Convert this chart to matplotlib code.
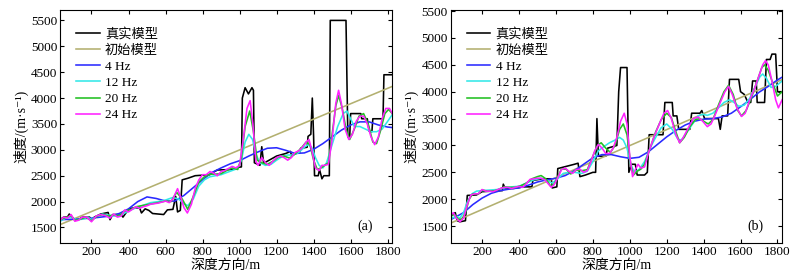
import matplotlib
matplotlib.use("Agg")
import matplotlib.pyplot as plt
import numpy as np

plt.rcParams['font.family'] = ['Liberation Serif', 'Noto Sans CJK SC', 'DejaVu Sans']

labels = ['真实模型', '初始模型', '4 Hz', '12 Hz', '20 Hz', '24 Hz']
colors = ['#000000', '#b3b070', '#2a2aff', '#33e8e8', '#22c022', '#ff22ff']

# ---------------- panel (a) ----------------
a_true_x = [30, 50, 70, 80, 95, 110, 130, 150, 190, 200, 215, 250, 290, 300, 315, 360, 370, 390, 410, 460, 470, 490, 510, 530, 560, 590, 610, 640, 655, 665, 680, 690, 720, 760, 840, 850, 880, 960, 990, 1010, 1015, 1030, 1048, 1067, 1075, 1080, 1110, 1120, 1130, 1160, 1200, 1250, 1275, 1280, 1325, 1330, 1365, 1370, 1385, 1393, 1400, 1405, 1425, 1432, 1445, 1455, 1485, 1490, 1575, 1585, 1595, 1600, 1655, 1660, 1690, 1700, 1715, 1720, 1775, 1780, 1825]
a_true_y = [1650, 1700, 1700, 1760, 1700, 1640, 1650, 1700, 1700, 1640, 1700, 1760, 1790, 1650, 1750, 1750, 1700, 1800, 1870, 1880, 1780, 1860, 1830, 1770, 1760, 1750, 1840, 1850, 2100, 1800, 1830, 2420, 2450, 2500, 2520, 2550, 2610, 2620, 2660, 2670, 4000, 4200, 4080, 4200, 4150, 2750, 2700, 3060, 2740, 2800, 2880, 2930, 2970, 2900, 2950, 3030, 3050, 3260, 3300, 4000, 3260, 2500, 2500, 2620, 2440, 2500, 2500, 5500, 5500, 3250, 3250, 3700, 3700, 3600, 3600, 3360, 3350, 3600, 3600, 4450, 4450]

init_x = [30, 1825]
init_y = [1555, 4225]

a_4_x = [30, 100, 200, 300, 350, 400, 450, 500, 550, 600, 650, 700, 750, 800, 850, 900, 950, 1000, 1050, 1100, 1150, 1200, 1250, 1300, 1350, 1400, 1450, 1500, 1550, 1600, 1650, 1700, 1750, 1800, 1825]
a_4_y = [1650, 1660, 1680, 1720, 1770, 1860, 2000, 2090, 2060, 2010, 2010, 2120, 2270, 2420, 2560, 2650, 2730, 2790, 2880, 2960, 3030, 3040, 2990, 2930, 2940, 3010, 3120, 3250, 3380, 3480, 3540, 3540, 3480, 3440, 3430]

a_12_x = [30, 60, 90, 120, 150, 180, 200, 230, 260, 290, 320, 360, 400, 440, 480, 520, 560, 600, 640, 670, 700, 720, 750, 780, 810, 840, 870, 900, 930, 960, 990, 1010, 1030, 1050, 1070, 1090, 1110, 1140, 1170, 1200, 1230, 1260, 1290, 1320, 1350, 1370, 1390, 1410, 1430, 1450, 1470, 1500, 1530, 1560, 1580, 1600, 1620, 1650, 1680, 1710, 1740, 1770, 1800, 1825]
a_12_y = [1620, 1680, 1700, 1650, 1660, 1700, 1650, 1720, 1760, 1740, 1720, 1740, 1820, 1880, 1930, 1980, 2000, 2030, 2080, 2050, 1960, 1920, 2050, 2300, 2420, 2480, 2500, 2520, 2560, 2600, 2640, 2800, 3150, 3300, 3200, 2900, 2750, 2700, 2720, 2800, 2870, 2900, 2900, 2950, 3050, 3100, 3050, 2850, 2700, 2650, 2750, 3100, 3450, 3700, 3750, 3600, 3450, 3450, 3400, 3350, 3350, 3400, 3550, 3680]

a_20_x = [30, 60, 90, 110, 140, 170, 200, 230, 260, 290, 320, 350, 380, 410, 440, 470, 500, 530, 560, 600, 630, 660, 690, 720, 750, 780, 810, 840, 870, 900, 930, 960, 990, 1010, 1030, 1055, 1075, 1095, 1120, 1150, 1180, 1210, 1240, 1270, 1300, 1330, 1360, 1380, 1400, 1420, 1440, 1460, 1480, 1500, 1520, 1535, 1555, 1575, 1595, 1620, 1645, 1670, 1695, 1720, 1740, 1760, 1785, 1805, 1825]
a_20_y = [1650, 1690, 1730, 1640, 1660, 1700, 1630, 1720, 1750, 1720, 1740, 1720, 1820, 1840, 1900, 1920, 1940, 1960, 1980, 2010, 2000, 2180, 2050, 1850, 2100, 2380, 2480, 2530, 2530, 2540, 2600, 2650, 2620, 2850, 3450, 3750, 3350, 2800, 2750, 2720, 2780, 2860, 2880, 2840, 2920, 3020, 3150, 3100, 2800, 2620, 2650, 2700, 2750, 3300, 3850, 4050, 3800, 3400, 3200, 3400, 3650, 3700, 3500, 3150, 3120, 3350, 3700, 3780, 3700]

a_24_x = [30, 50, 70, 90, 110, 130, 150, 175, 200, 225, 250, 275, 300, 320, 340, 360, 380, 400, 420, 440, 460, 480, 500, 520, 540, 560, 580, 600, 620, 640, 665, 685, 700, 718, 740, 760, 780, 800, 820, 840, 860, 880, 900, 920, 940, 960, 980, 1000, 1020, 1040, 1057, 1072, 1088, 1100, 1120, 1140, 1160, 1180, 1200, 1220, 1240, 1260, 1280, 1300, 1320, 1340, 1360, 1375, 1390, 1410, 1430, 1445, 1460, 1480, 1500, 1520, 1535, 1550, 1570, 1590, 1610, 1630, 1650, 1670, 1690, 1710, 1730, 1750, 1770, 1790, 1810, 1825]
a_24_y = [1640, 1700, 1680, 1750, 1620, 1640, 1700, 1700, 1610, 1720, 1750, 1730, 1680, 1760, 1700, 1720, 1840, 1800, 1850, 1900, 1870, 1900, 1920, 1950, 1960, 1970, 1990, 2010, 1980, 2050, 2250, 2050, 1880, 1780, 1950, 2250, 2420, 2520, 2520, 2580, 2550, 2500, 2580, 2600, 2640, 2680, 2650, 2700, 3200, 3800, 3950, 3500, 2780, 2700, 2850, 2750, 2700, 2780, 2850, 2880, 2850, 2800, 2850, 2950, 2980, 3050, 3150, 3200, 3000, 2650, 2600, 2700, 2700, 2720, 3200, 3900, 4150, 3900, 3400, 3200, 3300, 3550, 3650, 3650, 3500, 3250, 3100, 3250, 3600, 3800, 3800, 3700]

# ---------------- panel (b) ----------------
b_true_x = [30, 55, 65, 80, 110, 120, 170, 200, 310, 315, 325, 370, 425, 470, 475, 530, 575, 580, 605, 610, 700, 720, 730, 760, 800, 815, 822, 830, 870, 880, 930, 940, 950, 985, 995, 1010, 1030, 1040, 1080, 1095, 1105, 1180, 1190, 1230, 1235, 1255, 1265, 1325, 1335, 1380, 1390, 1405, 1480, 1490, 1500, 1530, 1540, 1590, 1600, 1620, 1640, 1655, 1665, 1685, 1690, 1730, 1740, 1760, 1770, 1790, 1800, 1825]
b_true_y = [1700, 1750, 1600, 1580, 1600, 2070, 2080, 2140, 2160, 2280, 2200, 2200, 2230, 2230, 2350, 2380, 2380, 2210, 2230, 2570, 2650, 2670, 2420, 2450, 2500, 2500, 3500, 2800, 2800, 2950, 3000, 4000, 4450, 4450, 2500, 2650, 2650, 2450, 2450, 2500, 3200, 3200, 3800, 3800, 3550, 3550, 3300, 3300, 3600, 3600, 3650, 3500, 3500, 3300, 3550, 3550, 4230, 4230, 4000, 3950, 3800, 3800, 4200, 4200, 3800, 3800, 4600, 4600, 4700, 4700, 4000, 4000]

b_4_x = [30, 100, 150, 200, 250, 300, 350, 400, 450, 500, 550, 600, 650, 700, 750, 800, 850, 900, 950, 1000, 1050, 1100, 1150, 1200, 1250, 1300, 1350, 1400, 1450, 1500, 1550, 1600, 1650, 1700, 1750, 1800, 1825]
b_4_y = [1620, 1750, 1900, 2020, 2110, 2160, 2190, 2210, 2260, 2320, 2360, 2390, 2440, 2530, 2650, 2770, 2830, 2830, 2790, 2760, 2780, 2880, 3020, 3160, 3280, 3380, 3450, 3490, 3500, 3530, 3600, 3720, 3850, 3990, 4100, 4220, 4270]

b_12_x = [30, 60, 80, 100, 120, 145, 170, 200, 240, 280, 320, 360, 400, 440, 480, 520, 555, 580, 610, 640, 670, 700, 740, 770, 800, 830, 860, 890, 920, 945, 965, 985, 1005, 1025, 1050, 1080, 1110, 1140, 1170, 1200, 1230, 1260, 1280, 1310, 1340, 1370, 1395, 1420, 1450, 1480, 1510, 1540, 1565, 1590, 1620, 1650, 1680, 1705, 1720, 1740, 1765, 1790, 1825]
b_12_y = [1640, 1680, 1650, 1750, 1950, 2100, 2150, 2160, 2170, 2180, 2210, 2230, 2240, 2300, 2360, 2390, 2340, 2300, 2380, 2480, 2500, 2500, 2480, 2520, 2700, 2900, 2980, 3050, 3100, 3150, 3100, 2950, 2650, 2500, 2550, 2700, 2950, 3150, 3330, 3400, 3300, 3120, 3100, 3250, 3400, 3550, 3580, 3560, 3600, 3700, 3800, 3850, 3800, 3730, 3750, 3880, 4100, 4280, 4330, 4250, 4080, 4100, 4200]

b_20_x = [30, 50, 70, 90, 110, 130, 150, 180, 200, 230, 260, 290, 320, 350, 380, 410, 440, 470, 500, 520, 545, 570, 590, 610, 630, 655, 680, 710, 740, 770, 800, 825, 845, 870, 895, 920, 945, 965, 985, 1005, 1020, 1040, 1060, 1080, 1110, 1140, 1170, 1200, 1225, 1250, 1270, 1295, 1325, 1355, 1380, 1405, 1425, 1450, 1480, 1510, 1535, 1560, 1585, 1605, 1630, 1660, 1690, 1715, 1730, 1750, 1775, 1800, 1825]
b_20_y = [1680, 1720, 1630, 1620, 1750, 2000, 2100, 2100, 2170, 2150, 2150, 2180, 2230, 2220, 2220, 2250, 2300, 2380, 2420, 2440, 2380, 2250, 2280, 2420, 2560, 2560, 2470, 2540, 2530, 2550, 2800, 3000, 3050, 2950, 2870, 3000, 3300, 3400, 3200, 2650, 2450, 2520, 2560, 2650, 2950, 3250, 3480, 3600, 3520, 3250, 3050, 3150, 3350, 3480, 3500, 3440, 3400, 3480, 3750, 4000, 4120, 3950, 3650, 3550, 3650, 3900, 4200, 4450, 4500, 4400, 4150, 3920, 4000]

b_24_x = [30, 45, 60, 80, 100, 120, 140, 160, 180, 200, 220, 240, 260, 280, 300, 320, 340, 360, 380, 400, 420, 440, 460, 480, 500, 520, 540, 560, 575, 590, 610, 630, 650, 670, 690, 710, 730, 750, 770, 790, 810, 830, 850, 870, 890, 910, 930, 950, 970, 985, 1000, 1015, 1030, 1045, 1060, 1080, 1100, 1130, 1160, 1185, 1205, 1225, 1250, 1270, 1290, 1320, 1345, 1370, 1395, 1420, 1440, 1460, 1490, 1515, 1535, 1555, 1580, 1605, 1625, 1650, 1675, 1700, 1720, 1735, 1750, 1770, 1790, 1805, 1825]
b_24_y = [1700, 1750, 1650, 1580, 1650, 1900, 2080, 2100, 2100, 2180, 2150, 2150, 2140, 2170, 2200, 2220, 2220, 2200, 2220, 2240, 2220, 2290, 2370, 2380, 2390, 2390, 2360, 2280, 2220, 2270, 2400, 2550, 2580, 2520, 2480, 2550, 2560, 2500, 2530, 2700, 2900, 3020, 2950, 2850, 2850, 2950, 3150, 3450, 3600, 3400, 2800, 2420, 2550, 2650, 2580, 2600, 2850, 3150, 3400, 3600, 3650, 3500, 3200, 3050, 3150, 3350, 3500, 3530, 3450, 3350, 3400, 3550, 3800, 4000, 4100, 3950, 3700, 3540, 3600, 3850, 4050, 4300, 4500, 4580, 4500, 4200, 3850, 3700, 3850]

panels = [
    dict(tag='(a)', ylim=(1200, 5700), true=(a_true_x, a_true_y),
         curves=[(a_4_x, a_4_y), (a_12_x, a_12_y), (a_20_x, a_20_y), (a_24_x, a_24_y)]),
    dict(tag='(b)', ylim=(1190, 5520), true=(b_true_x, b_true_y),
         curves=[(b_4_x, b_4_y), (b_12_x, b_12_y), (b_20_x, b_20_y), (b_24_x, b_24_y)]),
]

fig = plt.figure(figsize=(8.11, 2.79), dpi=100)
rects = [[0.074, 0.129, 0.409, 0.835], [0.5557, 0.13, 0.408, 0.834]]

for rect, p in zip(rects, panels):
    ax = fig.add_axes(rect)
    lw = 1.15
    ax.plot(*p['true'], color=colors[0], lw=lw, label=labels[0])
    ax.plot(init_x, init_y, color=colors[1], lw=lw, label=labels[1])
    for (cx, cy), c, lab in zip(p['curves'], colors[2:], labels[2:]):
        ax.plot(cx, cy, color=c, lw=lw, label=lab)
    ax.set_xlim(30, 1822)
    ax.set_ylim(*p['ylim'])
    ax.set_xticks(np.arange(200, 1801, 200))
    ax.set_yticks(np.arange(1500, 5501, 500))
    ax.tick_params(direction='in', top=True, right=True, labelsize=9.5, length=3, pad=2)
    for s in ax.spines.values():
        s.set_linewidth(0.8)
    ax.set_xlabel('深度方向/m', fontsize=10, labelpad=1)
    ax.set_ylabel('速度/(m·s⁻¹)', fontsize=10, labelpad=2)
    ax.text(0.92, 0.07, p['tag'], transform=ax.transAxes, fontsize=10, ha='center', va='center')
    ax.legend(loc='upper left', frameon=False, fontsize=9.5, handlelength=1.8,
              handletextpad=0.4, labelspacing=0.3, borderaxespad=0.3, bbox_to_anchor=(0.02, 0.965))

fig.savefig('out.png', dpi=100)
